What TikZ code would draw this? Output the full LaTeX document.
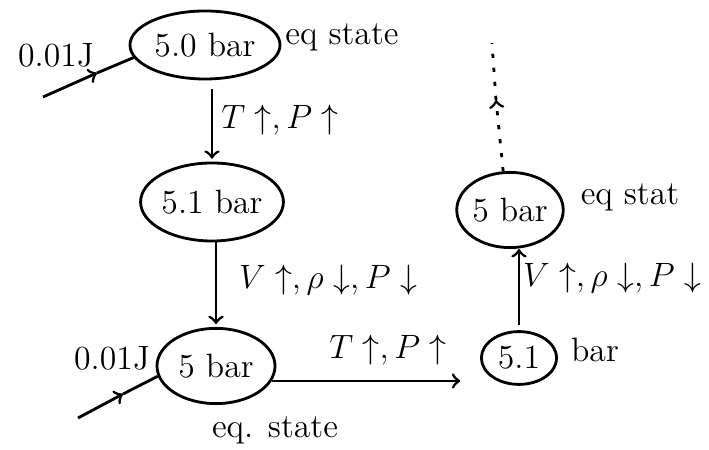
\documentclass[tikz,border=0pt]{standalone}
\usetikzlibrary{shapes.geometric}
\tikzset{
  state/.style = {draw, ellipse, inner sep = 0pt},
}
\begin{document}
\begin{tikzpicture}[x = 0.0125cm, y = -0.0125cm, line width = 1pt, font = \large]
    \useasboundingbox (0, 0) rectangle (709, 450);
    % the pressure states
    \node[state, minimum width = 1.875cm, minimum height = 0.85cm]  (top)    at (205, 45)  {5.0 bar};
    \node[state, minimum width = 1.75cm,  minimum height = 0.975cm] (mid)    at (212, 202) {5.1 bar};
    \node[state, minimum width = 1.475cm, minimum height = 0.94cm]  (bottom) at (216, 366) {5 bar};
    \node[state, minimum width = 0.94cm,  minimum height = 0.66cm]  (right)  at (519, 358) {5.1};
    \node[state, minimum width = 1.3cm,   minimum height = 0.94cm]  (upper)  at (510, 210) {5 bar};
    % free ends of the inputs and of the dotted line
    \coordinate (intop)    at (43, 97);
    \coordinate (intopmid) at (97, 73);
    \coordinate (inbot)    at (78, 418);
    \coordinate (inbotmid) at (123, 394);
    \coordinate (dotmid)   at (496, 100);
    \coordinate (dotend)   at (492, 43);
    % connectors
    \draw[->, shorten < = 3pt, shorten > = 1pt] (mid.north |- top.south) -- (mid.north);
    \draw[->, shorten > = 1pt] (mid.south -| bottom.north) -- (bottom.north);
    \draw[->, shorten > = 7pt] (bottom.-15) -- (bottom.-15 -| right.west);
    \draw[->, shorten < = 2pt] (right.north) -- (right.north |- upper.south);
    \draw[->] (intop) -- (intopmid);
    \draw     (intopmid) -- (top.190);
    \draw[->] (inbot) -- (inbotmid);
    \draw     (inbotmid) -- (bottom.190);
    \draw[dash pattern = on 1.5pt off 3.5pt, ->] (upper.100) -- (dotmid);
    \draw[dash pattern = on 1.5pt off 3.5pt]     (dotmid) -- (dotend);
    % labels
    \node (jtop)    at (56, 55)   {0.01J};
    \node (eqtop)   at (342, 37)  {eq state};
    \node (upone)   at (280, 120) {$T\uparrow, P\uparrow$};
    \node (downone) at (328, 280) {$V\uparrow, \rho\downarrow, P\downarrow$};
    \node (jbot)    at (112, 358) {0.01J};
    \node (eqbot)   at (275, 430) {eq. state};
    \node (uptwo)   at (388, 350) {$T\uparrow, P\uparrow$};
    \node (barr)    at (595, 350) {bar};
    \node (downtwo) at (612, 278) {$V\uparrow, \rho\downarrow, P\downarrow$};
    \node (equpper) at (630, 197) {eq stat};
  \end{tikzpicture}
\end{document}
